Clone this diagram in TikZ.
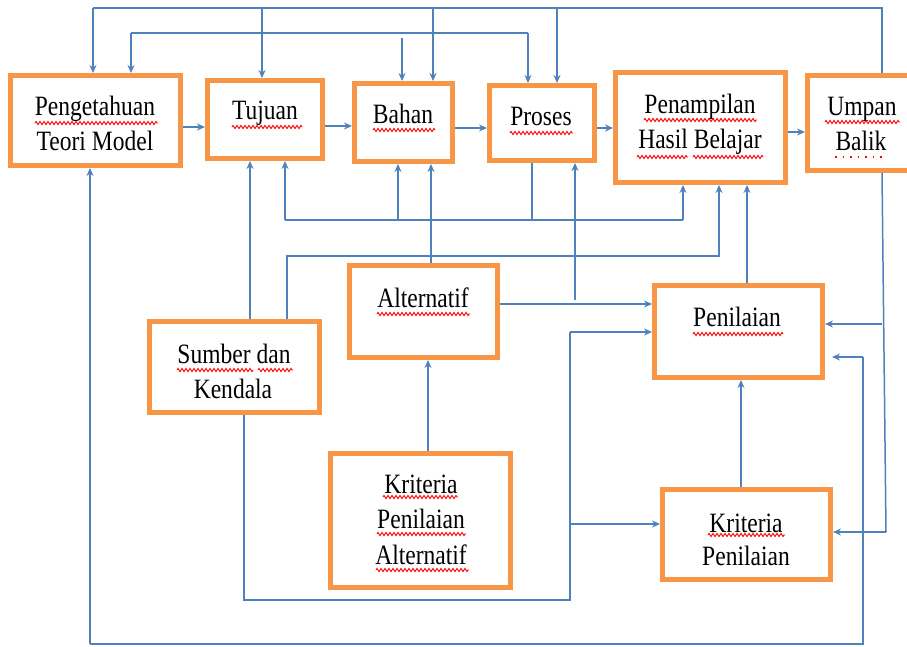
\documentclass[tikz,border=0pt]{standalone}
\usepackage{fontspec}
\setmainfont{Liberation Serif}[FakeStretch=0.84]
\usetikzlibrary{arrows.meta,decorations.pathmorphing}
\definecolor{boxor}{HTML}{F79646}
\definecolor{lnblue}{HTML}{4F81BD}
\tikzset{
  bx/.style={draw=boxor, line width=5pt, inner sep=0pt},
  tx/.style={anchor=base, inner sep=0pt, font=\fontsize{28}{32}\selectfont},
  ln/.style={draw=lnblue, line width=1.5pt},
  arr/.style={ln, -{Stealth[length=8pt,width=7pt]}},
  sq/.style={draw=red, line width=0.9pt, decorate, decoration={zigzag, segment length=4pt, amplitude=1.6pt}},
  dotl/.style={draw=red, line width=1.5pt, dash pattern=on 1.5pt off 6pt},
}
\begin{document}
\begin{tikzpicture}[x=1pt,y=-1pt]
\useasboundingbox (0,0) rectangle (907,646);
\clip (0,0) rectangle (907,646);

% boxes
\node[bx, minimum width=170pt, minimum height=90pt]  (pen) at (95.5,120.5) {};
\node[bx, minimum width=115pt, minimum height=78pt]  (tuj) at (265,119.5) {};
\node[bx, minimum width=98pt,  minimum height=78pt]  (bah) at (403.5,122.5) {};
\node[bx, minimum width=105pt, minimum height=75pt]  (pro) at (542,123) {};
\node[bx, minimum width=170pt, minimum height=110pt] (pha) at (700.5,127.5) {};
\node[bx, minimum width=109pt, minimum height=95pt]  (umb) at (862,123) {};
\node[bx, minimum width=148pt, minimum height=92pt]  (alt) at (423.5,311.5) {};
\node[bx, minimum width=170pt, minimum height=91pt]  (sum) at (234.5,367) {};
\node[bx, minimum width=168pt, minimum height=92pt]  (pnl) at (738.5,331.5) {};
\node[bx, minimum width=180pt, minimum height=134pt] (kpa) at (420.5,520.5) {};
\node[bx, minimum width=168pt, minimum height=90pt]  (kp)  at (746.5,534.5) {};

% texts
\node[tx] (pen1) at (95,115) {Pengetahuan};
\node[tx] (pen2) at (95,150) {Teori Model};
\node[tx] (tuj1) at (265,119) {Tujuan};
\node[tx] (bah1) at (403,123) {Bahan};
\node[tx] (pro1) at (541,125) {Proses};
\node[tx] (pha1) at (700,113) {Penampilan};
\node[tx] (pha2) at (700,148) {Hasil Belajar};
\node[tx] (umb1) at (862,115) {Umpan};
\node[tx] (umb2) at (861,150) {Balik};
\node[tx] (alt1) at (423,307) {Alternatif};
\node[tx] (sum1) at (234,363) {Sumber dan};
\node[tx] (sum2) at (233,398) {Kendala};
\node[tx] (pnl1) at (737,326) {Penilaian};
\node[tx] (kpa1) at (421,493) {Kriteria};
\node[tx] (kpa2) at (421,528) {Penilaian};
\node[tx] (kpa3) at (421,564) {Alternatif};
\node[tx] (kp1)  at (746,532) {Kriteria};
\node[tx] (kp2)  at (746,565) {Penilaian};

% spell-check underlines
\draw[sq] (35,123) -- (158,123);
\draw[sq] (232,127) -- (302,127);
\draw[sq] (373,130) -- (435,130);
\draw[sq] (510,133) -- (573,133);
\draw[sq] (644,120) -- (757,120);
\draw[sq] (637,157) -- (688,157);
\draw[sq] (693,157) -- (763,157);
\draw[sq] (825,122) -- (900,122);
\draw[dotl] (835,157) -- (882,157);
\draw[sq] (377,314) -- (470,314);
\draw[sq] (177,370) -- (253,370);
\draw[sq] (258,370) -- (293,370);
\draw[sq] (693,334) -- (783,334);
\draw[sq] (383,497) -- (458,497);
\draw[sq] (377,534) -- (466,534);
\draw[sq] (376,570) -- (469,570);
\draw[sq] (708,535) -- (785,535);

% junction coordinates
\coordinate (tl) at (882,8);
\coordinate (tr) at (93,8);
\coordinate (m1) at (131,33);
\coordinate (m2) at (528,33);
\coordinate (h1a) at (285,220);
\coordinate (h1b) at (683,220);
\coordinate (h2a) at (287,256);
\coordinate (h2b) at (719,256);
\coordinate (v1) at (575,300);
\coordinate (b1) at (244,600);
\coordinate (b2) at (570,600);
\coordinate (b3) at (570,332);
\coordinate (r1) at (886,532);
\coordinate (r2) at (863,357);
\coordinate (r3) at (863,644);
\coordinate (r4) at (90,644);

% top feedback loop
\draw[ln] (umb.north -| tl) -- (tl) -- (tr);
\draw[arr] (tr) -- (pen.north -| tr);
\draw[arr] (262,8) -- (tuj.north -| 262,0);
\draw[arr] (433,8) -- (bah.north -| 433,0);
\draw[arr] (557,8) -- (pro.north -| 557,0);

% second top line
\draw[ln] (m1) -- (m2);
\draw[arr] (m1) -- (pen.north -| m1);
\draw[arr] (m2) -- (pro.north -| m2);
\draw[arr] (402,38) -- (bah.north -| 402,0);

% main chain
\draw[arr] (pen.east |- 0,127) -- (tuj.west |- 0,127);
\draw[arr] (tuj.east |- 0,126) -- (bah.west |- 0,126);
\draw[arr] (bah.east |- 0,128) -- (pro.west |- 0,128);
\draw[arr] (pro.east |- 0,128) -- (pha.west |- 0,128);
\draw[arr] (pha.east |- 0,132) -- (umb.west |- 0,132);

% line under top row from Proses
\draw[ln] (pro.south -| 532,0) -- (532,220);
\draw[ln] (h1a) -- (h1b);
\draw[arr] (h1a) -- (tuj.south -| h1a);
\draw[arr] (398,220) -- (bah.south -| 398,0);
\draw[arr] (h1b) -- (pha.south -| h1b);

% Sumber dan Kendala upward
\draw[arr] (sum.north -| 250,0) -- (tuj.south -| 250,0);
\draw[arr] (sum.north -| h2a) -- (h2a) -- (h2b) -- (pha.south -| h2b);

% Alternatif
\draw[arr] (alt.north -| 431,0) -- (bah.south -| 431,0);
\draw[arr] (alt.east |- 0,304) -- (pnl.west |- 0,304);
\draw[arr] (v1) -- (pro.south -| v1);
\draw[arr] (kpa.north -| 428,0) -- (alt.south -| 428,0);

% Penilaian
\draw[arr] (pnl.north -| 747,0) -- (pha.south -| 747,0);
\draw[arr] (kp.north -| 741,0) -- (pnl.south -| 741,0);

% bottom loop from Sumber dan Kendala
\draw[ln] (sum.south -| b1) -- (b1) -- (b2) -- (b3);
\draw[arr] (b3) -- (pnl.west |- b3);
\draw[arr] (570,524) -- (kp.west |- 0,524);

% right side from Umpan Balik
\draw[ln] (umb.south -| 882,0) -- (r1);
\draw[arr] (r1) -- (kp.east |- r1);
\draw[arr] (882.2,324) -- (pnl.east |- 0,324);

% outer bottom loop
\draw[ln] (r2) -- (r3) -- (r4);
\draw[arr] (r2) -- ([xshift=7pt]pnl.east |- r2);
\draw[arr] (r4) -- (pen.south -| r4);
\end{tikzpicture}
\end{document}
